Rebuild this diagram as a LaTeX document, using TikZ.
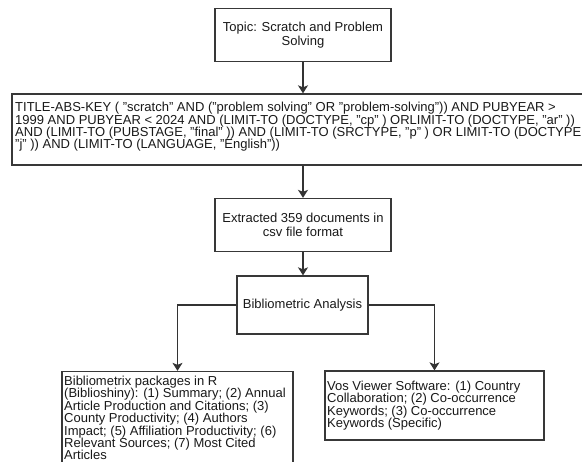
\documentclass[tikz,border=0pt]{standalone}
\usepackage{fontspec}
\setmainfont{Liberation Sans}
\usetikzlibrary{arrows.meta}
\newcommand\myfontC{\fontsize{13}{13.4}\selectfont\lineskiplimit=-6pt\relax}
\newcommand\myfontL{\fontsize{13}{12.4}\selectfont\lineskiplimit=-6pt\relax}
\begin{document}
\begin{tikzpicture}[x=1pt,y=-1pt,
  box/.style={draw=black!78, line width=1.3pt, fill=white, inner sep=0pt},
  ctxt/.style={font=\myfontC, text=black!90, align=center},
  ltxt/.style={font=\myfontL, text=black!90, align=left, inner sep=0pt},
  arr/.style={draw=black!80, line width=1.3pt, -{Stealth[length=8pt,width=10pt,inset=2pt]}}]
\useasboundingbox (0,0) rectangle (582,462);
% boxes
\node[box, ctxt, minimum width=176pt, minimum height=53pt] (topic) at (303,35) {Topic: Scratch and Problem\\Solving};
\node[box, minimum width=588pt, minimum height=71pt] (query) at (306,129.5) {};
\node[ltxt, anchor=west] (queryt) at (15,127) {TITLE-ABS-KEY ( "scratch" AND ("problem solving" OR "problem-solving")) AND PUBYEAR >\\
1999 AND PUBYEAR < 2024 AND (LIMIT-TO (DOCTYPE, "cp" ) ORLIMIT-TO (DOCTYPE, "ar" ))\\
AND (LIMIT-TO (PUBSTAGE, "final" )) AND (LIMIT-TO (SRCTYPE, "p" ) OR LIMIT-TO (DOCTYPE,\\
"j" )) AND (LIMIT-TO (LANGUAGE, "English"))};
\node[box, ctxt, minimum width=176pt, minimum height=53pt] (extr) at (303,225) {Extracted 359 documents in\\csv file format};
\node[box, ctxt, minimum width=131pt, minimum height=58pt] (bib) at (302.5,305) {Bibliometric Analysis};
\node[box, minimum width=231pt, minimum height=94pt] (left) at (177.5,418.5) {};
\node[ltxt, anchor=west] (leftt) at (64,418) {Bibliometrix packages in R\\
(Biblioshiny): (1) Summary; (2) Annual\\
Article Production and Citations; (3)\\
County Productivity; (4) Authors\\
Impact; (5) Affiliation Productivity; (6)\\
Relevant Sources; (7) Most Cited\\
Articles};
\node[box, minimum width=219pt, minimum height=69pt] (right) at (434.5,405.5) {};
\node[ltxt, anchor=west] (rightt) at (327,405.5) {Vos Viewer Software: (1) Country\\
Collaboration; (2) Co-occurrence\\
Keywords; (3) Co-occurrence\\
Keywords (Specific)};
% connectors
\draw[arr] (topic.south) -- (topic.south |- query.north);
\draw[arr] (extr.north |- query.south) -- (extr.north);
\draw[arr] (extr.south) -- (extr.south |- bib.north);
\draw[arr] (bib.west) -| (left.north);
\draw[arr] (bib.east) -| (right.north);
\end{tikzpicture}
\end{document}
